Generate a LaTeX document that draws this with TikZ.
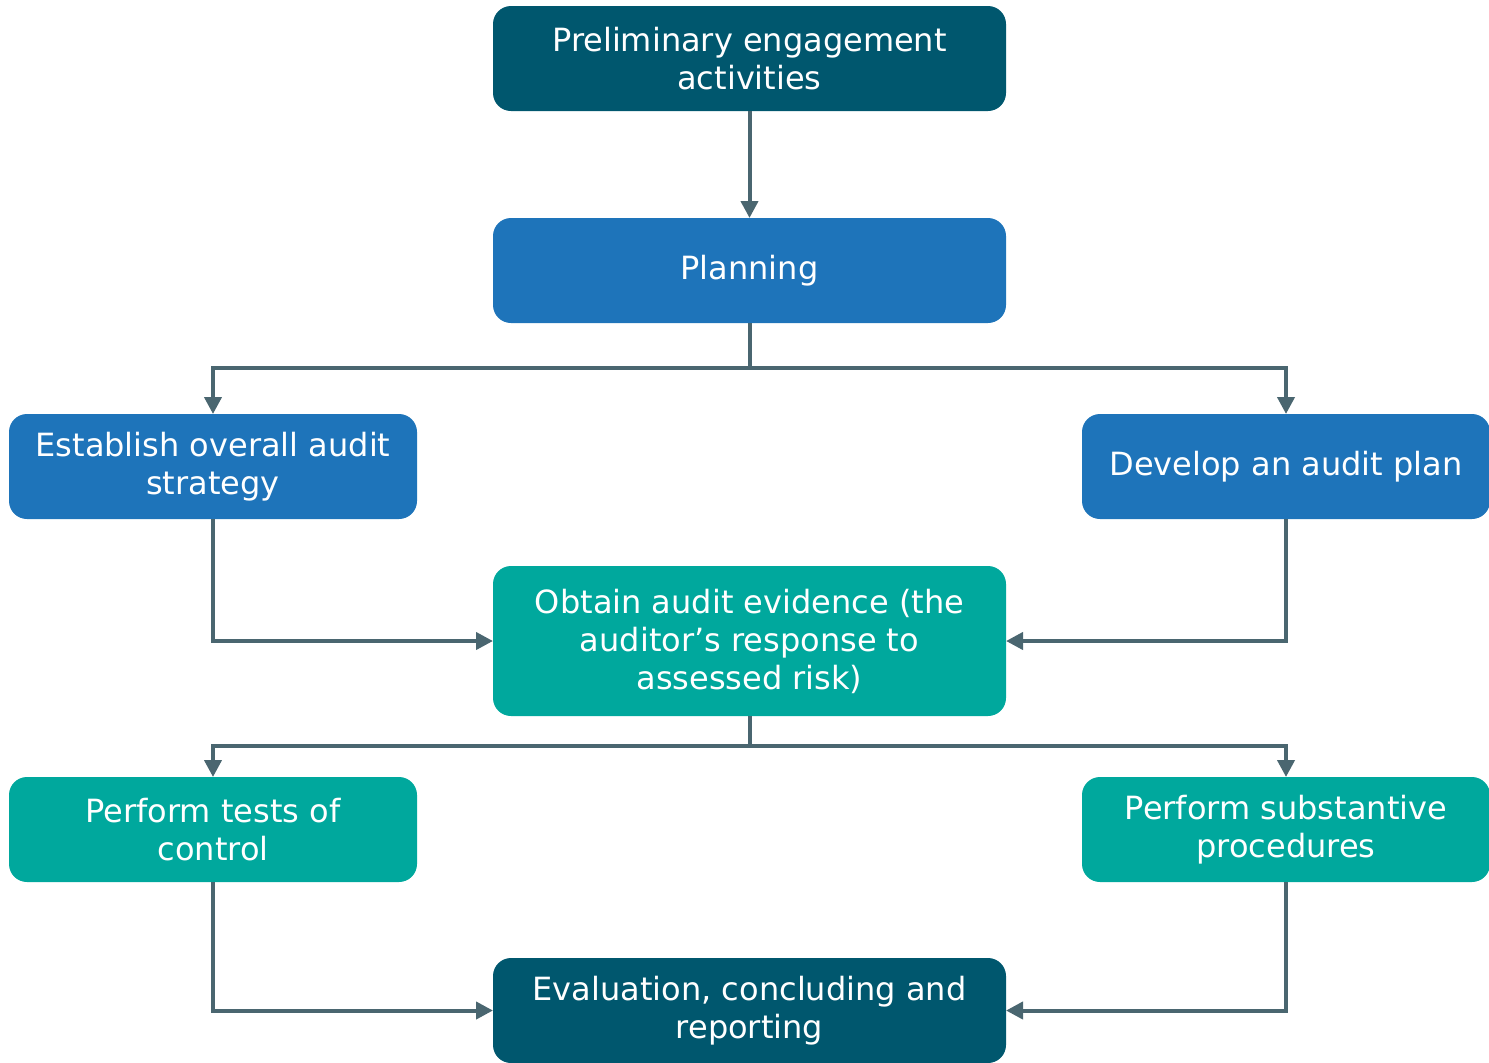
\documentclass[tikz,border=0pt]{standalone}
\usepackage{fontspec}
\setmainfont{DejaVu Sans}
\usetikzlibrary{arrows.meta}
\definecolor{darkteal}{RGB}{0,87,110}
\definecolor{stepblue}{RGB}{30,116,186}
\definecolor{sea}{RGB}{0,168,157}
\definecolor{linkgrey}{RGB}{74,102,112}
\tikzset{
  box/.style = {align=center, inner sep=0pt, outer sep=0pt, text centered,
    rounded corners=9pt, text=white,
    font=\fontsize{16}{19}\selectfont},
  wide/.style = {box, minimum width=256.5pt, minimum height=52.5pt},
  narrow/.style = {box, minimum width=204pt, minimum height=52.5pt},
  stage/.style = {fill=darkteal},
  plan/.style = {fill=stepblue},
  fieldwork/.style = {fill=sea}
}

\begin{document}
\begin{tikzpicture}[
        x=0.5pt, y=-0.5pt,
        ->,
        >={Triangle[length=8.5pt,width=8.5pt]},
        color=linkgrey,
        line width=2pt
    ]
    \useasboundingbox (0,0) rectangle (1489,1062);

    % stages
    \node [wide, stage] (prelim) at (749.5,58.5) {Preliminary engagement\\activities};
    \node [wide, plan] (planning) at (749.5,270.5) {Planning};
    \node [narrow, plan] (strategy) at (213,466.5) {Establish overall audit\\strategy};
    \node [narrow, plan] (auditplan) at (1286,466.5) {Develop an audit plan};
    \node [wide, fieldwork, minimum height=75pt] (evidence) at (749.5,641)
        {Obtain audit evidence (the\\auditor’s response to\\assessed risk)};
    \node [narrow, fieldwork] (controls) at (213,829.5) {Perform tests of\\control};
    \node [narrow, fieldwork] (substantive) at (1286,829.5) {Perform substantive\\procedures};
    \node [wide, stage] (evaluation) at (749.5,1010.5) {Evaluation, concluding and\\reporting};

    \coordinate (split1) at (749.5,368);
    \coordinate (split2) at (749.5,746);

    % links
    \draw (prelim) -- (planning);
    \draw (planning) -- (split1) -| (strategy);
    \draw (split1) -| (auditplan);
    \draw (strategy) |- (evidence);
    \draw (auditplan) |- (evidence);
    \draw (evidence) -- (split2) -| (controls);
    \draw (split2) -| (substantive);
    \draw (controls) |- (evaluation);
    \draw (substantive) |- (evaluation);
\end{tikzpicture}
\end{document}
